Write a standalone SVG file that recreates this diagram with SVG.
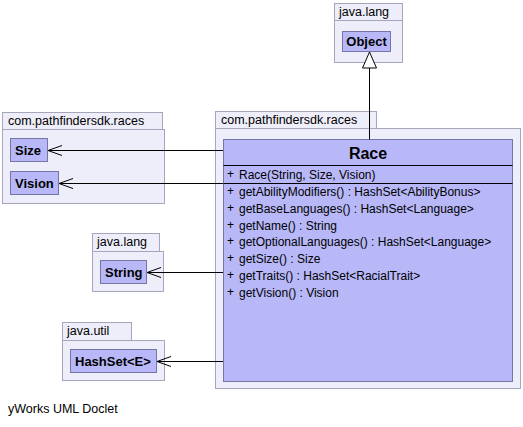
<svg xmlns="http://www.w3.org/2000/svg" width="523" height="427" viewBox="0 0 523 427">
<defs>
<marker id="open" viewBox="0 0 16 12" refX="15" refY="6" markerWidth="16" markerHeight="12" markerUnits="userSpaceOnUse" orient="auto">
<path d="M1,1 L15,6 L1,11" fill="none" stroke="#000" stroke-width="1"/>
</marker>
<marker id="tri" viewBox="0 0 16 18" refX="8" refY="1" markerWidth="16" markerHeight="18" markerUnits="userSpaceOnUse" orient="0">
<path d="M8,1 L15,17 L1,17 Z" fill="#fff" stroke="#000" stroke-width="1"/>
</marker>
</defs>
<style>
.pkg{fill:#eeeefa;stroke:#a5a5bb;stroke-width:1}
.cls{fill:#b8b8f8;stroke:#7676a6;stroke-width:1}
.pl{font-family:"Liberation Sans",Arial,sans-serif;font-size:12.5px;fill:#000}
.cn{font-family:"Liberation Sans",Arial,sans-serif;font-size:13px;font-weight:bold;fill:#000}
.mt{font-family:"Liberation Sans",Arial,sans-serif;font-size:12px;fill:#000}
.ln{stroke:#000;stroke-width:1;fill:none}
</style>
<rect width="523" height="427" fill="#fff"/>

<g id="pkg-java-lang-object">
<rect class="pkg" x="334.5" y="3.5" width="68" height="17"/>
<rect class="pkg" x="334.5" y="20.5" width="68" height="42"/>
<text class="pl" x="339" y="16">java.lang</text>
</g>
<g id="Object">
<rect class="cls" x="342.5" y="31.5" width="48" height="20"/>
<text class="cn" x="366.5" y="46" text-anchor="middle">Object</text>
</g>

<g id="pkg-races-left">
<rect class="pkg" x="2.5" y="112.5" width="160" height="17"/>
<rect class="pkg" x="2.5" y="129.5" width="162" height="74"/>
<text class="pl" x="8" y="125">com.pathfindersdk.races</text>
</g>
<g id="Size">
<rect class="cls" x="10.5" y="138.5" width="37" height="23"/>
<text class="cn" x="15" y="155">Size</text>
</g>
<g id="Vision">
<rect class="cls" x="10.5" y="171.5" width="48" height="23"/>
<text class="cn" x="15" y="188">Vision</text>
</g>

<g id="pkg-races-right">
<rect class="pkg" x="215.5" y="111.5" width="161" height="17"/>
<rect class="pkg" x="215.5" y="128.5" width="305" height="260"/>
<text class="pl" x="221" y="124">com.pathfindersdk.races</text>
</g>
<g id="Race">
<rect class="cls" x="223.5" y="139.5" width="289" height="242"/>
<text x="368" y="159" text-anchor="middle" style="font-family:'Liberation Sans',Arial,sans-serif;font-size:16px;font-weight:bold">Race</text>
<line class="ln" x1="223.5" y1="165.5" x2="512.5" y2="165.5"/>
<line class="ln" x1="223.5" y1="183.5" x2="512.5" y2="183.5"/>
<text class="mt" x="227" y="178">+</text><text class="mt" x="239" y="179">Race(String, Size, Vision)</text>
<text class="mt" x="227" y="195">+</text><text class="mt" x="239" y="196">getAbilityModifiers() : HashSet&lt;AbilityBonus&gt;</text>
<text class="mt" x="227" y="212">+</text><text class="mt" x="239" y="213">getBaseLanguages() : HashSet&lt;Language&gt;</text>
<text class="mt" x="227" y="229">+</text><text class="mt" x="239" y="230">getName() : String</text>
<text class="mt" x="227" y="245">+</text><text class="mt" x="239" y="246">getOptionalLanguages() : HashSet&lt;Language&gt;</text>
<text class="mt" x="227" y="262">+</text><text class="mt" x="239" y="263">getSize() : Size</text>
<text class="mt" x="227" y="279">+</text><text class="mt" x="239" y="280">getTraits() : HashSet&lt;RacialTrait&gt;</text>
<text class="mt" x="227" y="296">+</text><text class="mt" x="239" y="297">getVision() : Vision</text>
</g>

<g id="pkg-java-lang-string">
<rect class="pkg" x="92.5" y="233.5" width="67" height="18"/>
<rect class="pkg" x="92.5" y="251.5" width="71" height="40"/>
<text class="pl" x="97" y="246">java.lang</text>
</g>
<g id="String">
<rect class="cls" x="100.5" y="260.5" width="46" height="23"/>
<text class="cn" x="105" y="277">String</text>
</g>

<g id="pkg-java-util">
<rect class="pkg" x="62.5" y="322.5" width="69" height="18"/>
<rect class="pkg" x="62.5" y="340.5" width="102" height="40"/>
<text class="pl" x="67" y="335">java.util</text>
</g>
<g id="HashSet">
<rect class="cls" x="70.5" y="349.5" width="86" height="23"/>
<text class="cn" x="75" y="366">HashSet&lt;E&gt;</text>
</g>

<g id="connectors">
<line class="ln" x1="369.5" y1="139.5" x2="369.5" y2="52" marker-end="url(#tri)"/>
<line class="ln" x1="223" y1="150.5" x2="48" y2="150.5" marker-end="url(#open)"/>
<line class="ln" x1="223" y1="183.5" x2="59" y2="183.5" marker-end="url(#open)"/>
<line class="ln" x1="223" y1="272.5" x2="147" y2="272.5" marker-end="url(#open)"/>
<line class="ln" x1="223" y1="361.5" x2="157" y2="361.5" marker-end="url(#open)"/>
</g>

<text class="pl" x="8" y="413">yWorks UML Doclet</text>
</svg>
